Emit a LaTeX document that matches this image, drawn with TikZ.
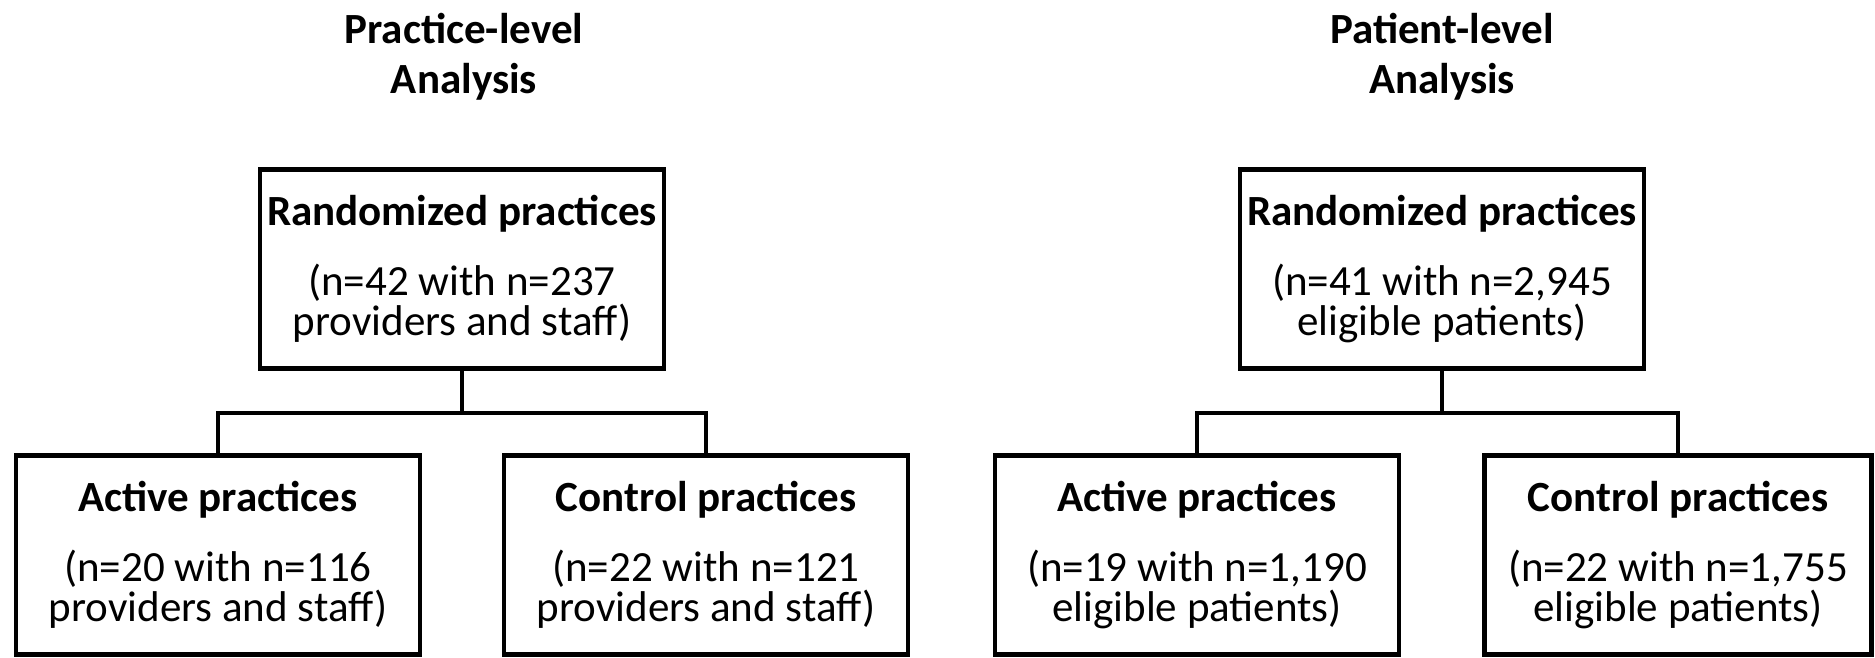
\documentclass[tikz,border=0pt]{standalone}
\usepackage{fontspec}
\setmainfont{Carlito}
\usetikzlibrary{positioning, calc}

\begin{document}
\begin{tikzpicture}[x=0.02cm, y=-0.02cm,
    flowbox/.style={draw, line width=2.6pt, minimum width=8.08cm,
                    minimum height=3.98cm, inner sep=0pt, align=center,
                    font=\fontsize{24.5}{22.8}\selectfont},
    heading/.style={align=center, inner sep=0pt,
                    font=\bfseries\fontsize{24.5}{28.5}\selectfont},
    link/.style={line width=2.6pt}]
  \useasboundingbox (0,0) rectangle (1875,657);

  % column headings
  \node[heading] (phead) at (464,57) {Practice-level\\Analysis};
  \node[heading] (qhead) at (1442,57) {Patient-level\\Analysis};

  % practice-level tree
  \node[flowbox] (prand) at (462,269) {
      {\bfseries Randomized practices}\\[17pt]
      (n=42 with n=237\\
      providers and staff)
  };
  \node[flowbox] (pact) at (218,555) {
      {\bfseries Active practices}\\[17pt]
      (n=20 with n=116\\
      providers and staff)
  };
  \node[flowbox] (pctl) at (706,555) {
      {\bfseries Control practices}\\[17pt]
      (n=22 with n=121\\
      providers and staff)
  };
  \coordinate (pjoin) at (462,413);

  % patient-level tree
  \node[flowbox] (qrand) at (1442,269) {
      {\bfseries Randomized practices}\\[17pt]
      (n=41 with n=2,945\\
      eligible patients)
  };
  \node[flowbox] (qact) at (1197,555) {
      {\bfseries Active practices}\\[17pt]
      (n=19 with n=1,190\\
      eligible patients)
  };
  \node[flowbox, minimum width=7.74cm] (qctl) at (1678,555) {
      {\bfseries Control practices}\\[17pt]
      (n=22 with n=1,755\\
      eligible patients)
  };
  \coordinate (qjoin) at (1442,413);

  \draw[link] (prand.south) -- (pjoin);
  \draw[link] (pact.north) |- (pjoin) -| (pctl.north);
  \draw[link] (qrand.south) -- (qjoin);
  \draw[link] (qact.north) |- (qjoin) -| (qctl.north);
\end{tikzpicture}
\end{document}
